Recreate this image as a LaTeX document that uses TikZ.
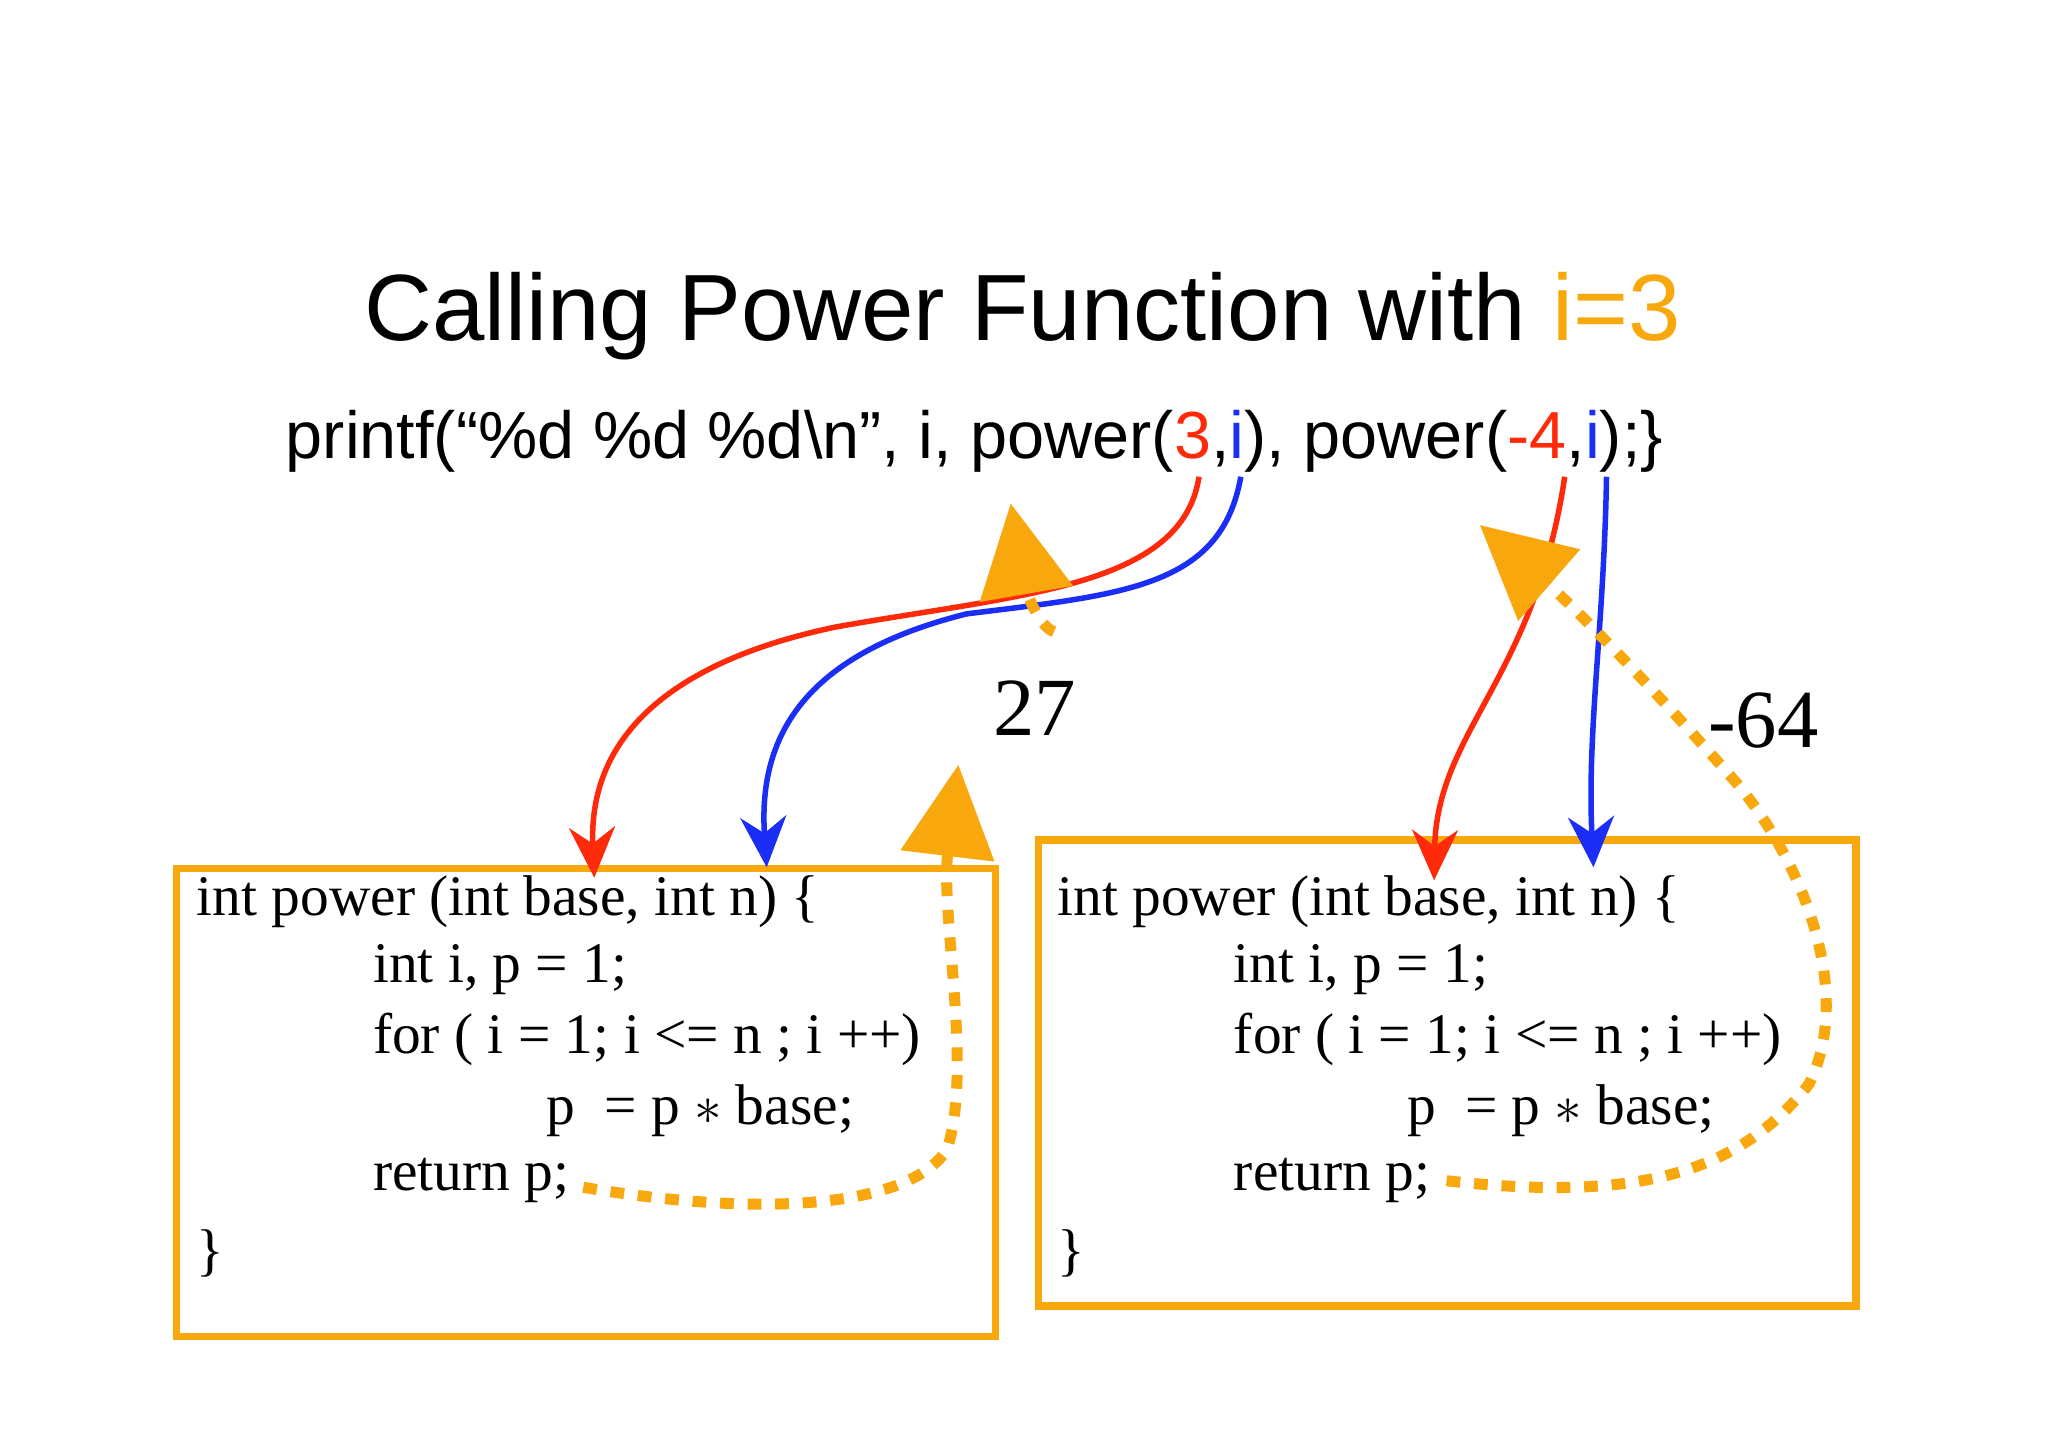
\documentclass[tikz,border=0pt]{standalone}
\usepackage{fontspec}
\setmainfont{Liberation Serif}
\newfontfamily\sansf{Liberation Sans}
\usetikzlibrary{arrows.meta}
\definecolor{argred}{HTML}{FF2A0A}
\definecolor{argblue}{HTML}{1A2EF5}
\definecolor{retorange}{HTML}{F8A80C}
\begin{document}
\begin{tikzpicture}[x=0.01cm,y=-0.01cm]
    \tikzset{
      frame/.style={draw=retorange, line width=1.6pt},
      code/.style={anchor=west, inner sep=0pt, font=\fontsize{12.5}{14}\selectfont},
      pass/.style={line width=1.2pt, -{Stealth[length=11pt,width=10pt]}},
      ret/.style={retorange, line width=2.4pt, dash pattern=on 3pt off 3pt,
                  -{Triangle[length=20pt,width=20pt,sep=3pt]}}
    }
    \useasboundingbox (0,0) rectangle (1568,1108);

    \node[font=\sansf\fontsize{20.5}{24}\selectfont] (title) at (783,242)
      {Calling Power Function with \textcolor{retorange}{i=3}};
    \node[font=\sansf\fontsize{14.5}{17}\selectfont] (call) at (746,338)
      {printf(“\%d \%d \%d\textbackslash n”, i, power(\textcolor{argred}{3},\textcolor{argblue}{i}), power(\textcolor{argred}{-4},\textcolor{argblue}{i});\}};

    % Rahmen der beiden Aufrufe
    \draw[frame] (135,665) rectangle (762,1023);
    \draw[frame] (795,643) rectangle (1421,1000);

    % Code im linken Rahmen
    \node[code] (a1) at (150,690) {int power (int base, int n) \{};
    \node[code] (a2) at (285,742) {int i, p = 1;};
    \node[code] (a3) at (285,796) {for ( i = 1; i <= n ; i ++)};
    \node[code] (a4) at (418,850) {p \ = p $*$ base;};
    \node[code] (a5) at (285,904) {return p;};
    \node[code] (a6) at (150,960) {\}};
    % Code im rechten Rahmen
    \node[code] (b1) at (809,690) {int power (int base, int n) \{};
    \node[code] (b2) at (944,742) {int i, p = 1;};
    \node[code] (b3) at (944,796) {for ( i = 1; i <= n ; i ++)};
    \node[code] (b4) at (1077,850) {p \ = p $*$ base;};
    \node[code] (b5) at (944,904) {return p;};
    \node[code] (b6) at (809,960) {\}};

    \node[font=\fontsize{18}{21}\selectfont] (r27) at (792,542) {27};
    \node[font=\fontsize{18}{21}\selectfont] (r64) at (1350,552) {-64};

    \coordinate (arg3) at (918,365);
    \coordinate (argi) at (950,365);
    \coordinate (argm4) at (1198,365);
    \coordinate (argj) at (1230,365);
    \coordinate (base1) at (455,672);
    \coordinate (n1) at (587,664);
    \coordinate (base2) at (1098,674);
    \coordinate (n2) at (1220,664);

    % Argumente
    \draw[pass, argred] (arg3) .. controls (905,450) and (780,455) .. (640,480)
      .. controls (520,505) and (450,560) .. (base1);
    \draw[pass, argblue] (argi) .. controls (935,450) and (860,455) .. (740,470)
      .. controls (620,500) and (580,560) .. (n1);
    \draw[pass, argred] (argm4) .. controls (1175,520) and (1100,560) .. (base2);
    \draw[pass, argblue] (argj) .. controls (1228,480) and (1215,560) .. (n2);

    % Rueckgabewerte
    \draw[ret] (a5.east) ++(10,5) .. controls (600,935) and (700,920) .. (725,880)
      .. controls (745,820) and (720,700) .. (735,575);
    \draw[ret] (r27.north) ++(15,-25) .. controls (795,480) and (785,450) .. (772,375);
    \draw[ret] (b5.east) ++(12,0) .. controls (1250,920) and (1330,900) .. (1385,830)
      .. controls (1420,760) and (1380,660) .. (1330,600)
      .. controls (1260,520) and (1200,460) .. (1125,395);
\end{tikzpicture}
\end{document}
